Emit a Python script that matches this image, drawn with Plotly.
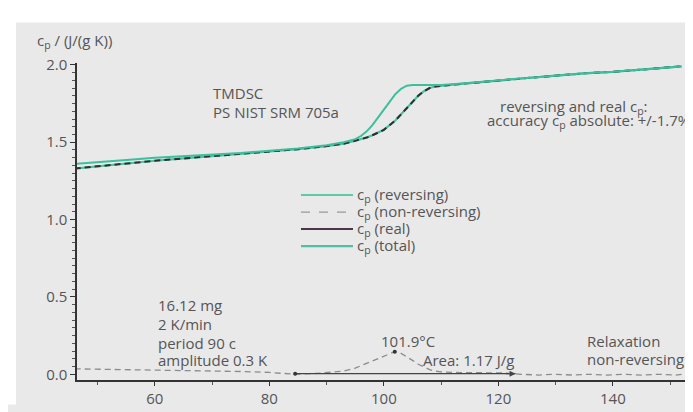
import plotly.graph_objects as go

# ---------------- data ----------------
T_upper = [46, 50, 55, 60, 65, 70, 75, 80, 85, 90, 93, 95, 96, 97, 98, 99, 100, 101, 102, 103,
           104, 105, 106, 107, 108, 109, 110, 112, 115, 120, 125, 130, 135, 140, 145, 150, 152]
cp_reversing = [1.36, 1.37, 1.385, 1.40, 1.41, 1.42, 1.43, 1.445, 1.46, 1.48, 1.50, 1.52, 1.54, 1.57,
                1.61, 1.66, 1.71, 1.76, 1.81, 1.845, 1.865, 1.87, 1.87, 1.87, 1.87, 1.87, 1.87,
                1.875, 1.885, 1.90, 1.915, 1.93, 1.945, 1.955, 1.97, 1.985, 1.99]
cp_total = [1.33, 1.345, 1.365, 1.38, 1.395, 1.41, 1.425, 1.44, 1.455, 1.475, 1.49, 1.51, 1.52, 1.53,
            1.545, 1.56, 1.58, 1.61, 1.64, 1.68, 1.72, 1.76, 1.80, 1.83, 1.85, 1.86, 1.865,
            1.872, 1.882, 1.90, 1.915, 1.93, 1.945, 1.955, 1.97, 1.985, 1.99]
cp_real = [1.33, 1.345, 1.365, 1.38, 1.395, 1.41, 1.425, 1.44, 1.455, 1.475, 1.49, 1.51, 1.52, 1.53,
           1.545, 1.56, 1.58, 1.61, 1.64, 1.68, 1.72, 1.76, 1.80, 1.83, 1.85, 1.86, 1.865,
           1.872, 1.882, 1.90, 1.915, 1.93, 1.945, 1.955, 1.97, 1.985, 1.99]

T_nonrev = [46, 50, 55, 60, 65, 70, 75, 80, 84.5, 88, 91, 93, 95, 97, 99, 100, 101, 101.9, 103, 104,
            105, 106, 107, 108, 109, 110, 112, 115, 118, 121, 124, 127, 130, 133, 136, 139, 142,
            145, 148, 151, 152]
cp_nonrev = [0.035, 0.033, 0.03, 0.028, 0.025, 0.022, 0.018, 0.012, 0.0, 0.005, 0.012, 0.02, 0.04,
             0.07, 0.10, 0.12, 0.135, 0.146, 0.135, 0.115, 0.09, 0.065, 0.045, 0.03, 0.02, 0.015,
             0.012, 0.01, 0.01, 0.008, 0.0, -0.005, 0.0, -0.005, 0.0, -0.005, 0.0, -0.005, 0.0,
             -0.005, 0.0]

peak_T = [101.9]
peak_cp = [0.146]
baseline_T = [84.5, 123.0]
baseline_cp = [0.004, 0.004]

x_ticks = [60, 80, 100, 120, 140]
y_ticks = [0.0, 0.5, 1.0, 1.5, 2.0]
y_ticklabels = ["0.0", "0.5", "1.0", "1.5", "2.0"]

legend_labels = ["c<sub>p</sub> (reversing)", "c<sub>p</sub> (non-reversing)",
                 "c<sub>p</sub> (real)", "c<sub>p</sub> (total)"]

# ---------------- style ----------------
TEAL = "#3dbf9c"
TEAL2 = "#46c3a2"
DARK = "#2e2e2e"
GRAY_DASH = "#8c8c8c"
TXT = "#555555"
BG = "#e9e9e9"
FONT = "Open Sans"
FS = 15

fig = go.Figure()
fig.add_trace(go.Scatter(x=T_upper, y=cp_total, mode="lines", name="total",
                         line=dict(color=TEAL2, width=2.2), showlegend=False))
fig.add_trace(go.Scatter(x=T_upper, y=cp_real, mode="lines", name="real",
                         line=dict(color=DARK, width=2, dash="6px,4px"), showlegend=False))
fig.add_trace(go.Scatter(x=T_upper, y=cp_reversing, mode="lines", name="reversing",
                         line=dict(color=TEAL, width=2), showlegend=False))
fig.add_trace(go.Scatter(x=T_nonrev, y=cp_nonrev, mode="lines", name="non-reversing",
                         line=dict(color=GRAY_DASH, width=1.3, dash="6px,4px"), showlegend=False))
fig.add_trace(go.Scatter(x=baseline_T, y=baseline_cp, mode="lines", name="baseline",
                         line=dict(color="#444444", width=1.2), showlegend=False))
fig.add_trace(go.Scatter(x=[baseline_T[0]] + peak_T, y=[baseline_cp[0]] + peak_cp, mode="markers",
                         marker=dict(color="#333333", size=4), showlegend=False))

W, H = 693, 412
ML, MR, MT, MB = 69, 16, 55, 21
PW, PH = W - ML - MR, H - MT - MB


def px(x):
    return (x - ML) / PW


def py(y):
    return (H - MB - y) / PH


annotations = []

# arrow head at the end of the integration baseline
annotations.append(dict(x=baseline_T[1], y=baseline_cp[1], ax=baseline_T[1] - 2, ay=baseline_cp[1],
                        xref="x", yref="y", axref="x", ayref="y", showarrow=True, arrowhead=2,
                        arrowsize=1, arrowwidth=1.2, arrowcolor="#444444", text=""))


def txt(text, x, y, anchor="left", size=FS, ref="data"):
    d = dict(text=text, x=x, y=y, xanchor=anchor, yanchor="middle", showarrow=False,
             font=dict(family=FONT, size=size, color=TXT))
    if ref == "paper":
        d.update(xref="paper", yref="paper")
    else:
        d.update(xref="x", yref="y")
    annotations.append(d)


txt("c<sub>p</sub> / (J/(g K))", px(27), py(32), ref="paper")
txt("TMDSC", 69.8, 1.817)
txt("PS NIST SRM 705a", 69.8, 1.695)
txt("reversing and real c<sub>p</sub>:", 133.2, 1.728, anchor="center")
txt("accuracy c<sub>p</sub> absolute: +/-1.7%", 117.7, 1.638)
txt("16.12 mg", 60.2, 0.445)
txt("2 K/min", 60.2, 0.325)
txt("period 90 c", 60.2, 0.205)
txt("amplitude 0.3 K", 60.2, 0.09)
txt("101.9°C", 104.2, 0.213, anchor="center")
txt("Area: 1.17 J/g", 106.5, 0.09)
txt("Relaxation", 135.1, 0.213)
txt("non-reversing c<sub>p</sub>", 135.1, 0.09)

# manual legend
leg_rows = [195, 213, 231, 249]
leg_styles = [dict(color="#5ccaa9", width=2), dict(color="#999999", width=1.2, dash="dash"),
              dict(color="#4d3549", width=2), dict(color="#4cc2a2", width=2.2)]
shapes = []
for lab, row, st in zip(legend_labels, leg_rows, leg_styles):
    shapes.append(dict(type="line", xref="paper", yref="paper", x0=px(293), x1=px(345),
                       y0=py(row), y1=py(row), line=st))
    txt(lab, px(347), py(row), ref="paper")

# white border strips (top and left) of the original picture
shapes.append(dict(type="rect", xref="paper", yref="paper", x0=px(-5), x1=px(W + 5),
                   y0=py(12), y1=py(-5), fillcolor="white", line=dict(width=0), layer="below"))
shapes.append(dict(type="rect", xref="paper", yref="paper", x0=px(-5), x1=px(8),
                   y0=py(H + 5), y1=py(-5), fillcolor="white", line=dict(width=0), layer="below"))

fig.update_layout(
    width=W, height=H,
    margin=dict(l=ML, r=MR, t=MT, b=MB),
    paper_bgcolor=BG, plot_bgcolor=BG,
    font=dict(family=FONT, color=TXT),
    annotations=annotations, shapes=shapes,
    showlegend=False,
)
fig.update_xaxes(range=[46.4, 152.6], tickvals=x_ticks, showgrid=False, zeroline=False,
                 showline=True, linecolor="#333333", linewidth=1.5,
                 ticks="outside", ticklen=4, tickcolor="#333333", tickwidth=1,
                 minor=dict(dtick=10, tick0=0, ticks="outside", ticklen=3, tickcolor="#555555"),
                 tickfont=dict(family=FONT, size=FS, color=TXT))
fig.update_yaxes(range=[-0.037, 2.012], tickvals=y_ticks, ticktext=y_ticklabels, showgrid=False,
                 zeroline=False, showline=True, linecolor="#333333", linewidth=1.5,
                 ticks="outside", ticklen=5, tickcolor="#333333", tickwidth=1,
                 minor=dict(dtick=0.05, tick0=0, ticks="outside", ticklen=3, tickcolor="#555555"),
                 tickfont=dict(family=FONT, size=FS, color=TXT))

fig.write_html("out.html")
